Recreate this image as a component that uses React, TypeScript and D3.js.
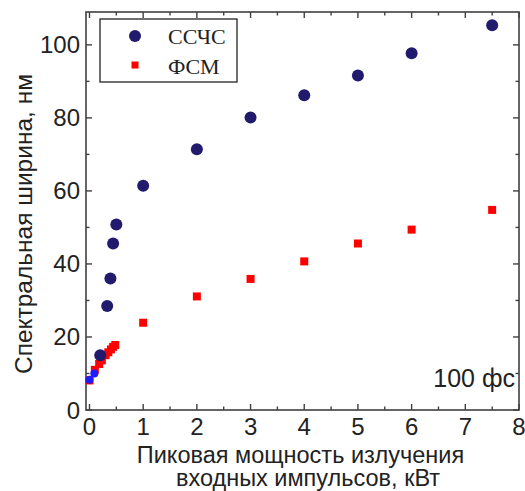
import React from "react";
import * as d3 from "d3";

const sschsX = [0.2, 0.33, 0.39, 0.44, 0.5, 1, 2, 3, 4, 5, 6, 7.5];
const sschsY = [15, 28.5, 36, 45.6, 50.8, 61.4, 71.4, 80.1, 86.2, 91.6, 97.7, 105.4];
const blueX = [0, 0.09];
const blueY = [8.3, 10];
const fsmX = [0, 0.1, 0.18, 0.23, 0.3, 0.35, 0.4, 0.44, 0.48, 1, 2, 3, 4, 5, 6, 7.5];
const fsmY = [8.1, 11, 12.6, 13.6, 15, 15.8, 16.6, 17.3, 17.8, 23.9, 31.1, 35.9, 40.7, 45.6, 49.4, 54.8];
const xTicks = [0, 1, 2, 3, 4, 5, 6, 7, 8];
const yTicks = [0, 20, 40, 60, 80, 100];
const legendLabels = ["ССЧС", "ФСМ"];

const W = 525, H = 491;
const L = 86, R = 519, T = 12, B = 410;
const NAVY = "#221a6c";
const RED = "#ff0000";
const BLUE = "#1c1cff";
const AX = "#404040";
const SANS = "'Liberation Sans', Arial, sans-serif";
const SERIF = "'Liberation Serif', 'Times New Roman', serif";

export default function App() {
  const x = d3.scaleLinear().domain([-0.065, 8]).range([L, R]);
  const y = d3.scaleLinear().domain([0, 109]).range([B, T]);
  const xMinor = d3.range(0.5, 8, 1);
  const yMinor = d3.range(10, 109, 20);
  const maj = 6, min = 3.5;
  return (
    <svg width={W} height={H} style={{ position: "absolute", left: 0, top: 0 }}>
      <rect x={0} y={0} width={W} height={H} fill="#fff" />
      {/* frame */}
      <rect x={L} y={T} width={R - L} height={B - T} fill="none" stroke={AX} strokeWidth={1.6} />
      {/* x ticks */}
      {xTicks.map((t) => (
        <g key={"xt" + t}>
          <line x1={x(t)} x2={x(t)} y1={B} y2={B - maj} stroke={AX} strokeWidth={1.4} />
          <line x1={x(t)} x2={x(t)} y1={T} y2={T + maj} stroke={AX} strokeWidth={1.4} />
          <text x={x(t)} y={B + 25} textAnchor="middle" fontFamily={SANS} fontSize={24} fill="#222">
            {t}
          </text>
        </g>
      ))}
      {xMinor.map((t) => (
        <g key={"xm" + t}>
          <line x1={x(t)} x2={x(t)} y1={B} y2={B - min} stroke={AX} strokeWidth={1.4} />
          <line x1={x(t)} x2={x(t)} y1={T} y2={T + min} stroke={AX} strokeWidth={1.4} />
        </g>
      ))}
      {yTicks.map((t) => (
        <g key={"yt" + t}>
          <line x1={L} x2={L + maj} y1={y(t)} y2={y(t)} stroke={AX} strokeWidth={1.4} />
          <line x1={R} x2={R - maj} y1={y(t)} y2={y(t)} stroke={AX} strokeWidth={1.4} />
          <text x={80} y={y(t) + 8.5} textAnchor="end" fontFamily={SANS} fontSize={24} fill="#222">
            {t}
          </text>
        </g>
      ))}
      {yMinor.map((t) => (
        <g key={"ym" + t}>
          <line x1={L} x2={L + min} y1={y(t)} y2={y(t)} stroke={AX} strokeWidth={1.4} />
          <line x1={R} x2={R - min} y1={y(t)} y2={y(t)} stroke={AX} strokeWidth={1.4} />
        </g>
      ))}
      {/* data */}
      {fsmX.map((v, i) => (
        <rect key={"f" + i} x={x(v) - 4} y={y(fsmY[i]) - 4} width={8} height={8} fill={RED} />
      ))}
      {sschsX.map((v, i) => (
        <circle key={"s" + i} cx={x(v)} cy={y(sschsY[i])} r={6} fill={NAVY} />
      ))}
      {blueX.map((v, i) => (
        <circle key={"b" + i} cx={x(v)} cy={y(blueY[i])} r={4} fill={BLUE} />
      ))}
      {/* legend */}
      <rect x={100} y={19} width={137} height={63} fill="#fff" stroke="#222" strokeWidth={1.3} />
      <circle cx={135} cy={36} r={6} fill={NAVY} />
      <rect x={131.5} y={61.5} width={7} height={7} fill={RED} />
      <text x={168} y={44} fontFamily={SERIF} fontSize={22} fill="#222">{legendLabels[0]}</text>
      <text x={168} y={74} fontFamily={SERIF} fontSize={22} fill="#222">{legendLabels[1]}</text>
      {/* annotation */}
      <text x={515} y={387} textAnchor="end" fontFamily={SANS} fontSize={25} fill="#222">100 фс</text>
      {/* axis titles */}
      <text textAnchor="middle" fontFamily={SANS} fontSize={23.5} fill="#222">
        <tspan x={300.5} y={463}>Пиковая мощность излучения</tspan>
        <tspan x={308} y={486}>входных импульсов, кВт</tspan>
      </text>
      <text
        transform={`translate(32, 224) rotate(-90)`}
        textAnchor="middle"
        fontFamily={SANS}
        fontSize={24.5}
        fill="#222"
      >
        Спектральная ширина, нм
      </text>
    </svg>
  );
}
